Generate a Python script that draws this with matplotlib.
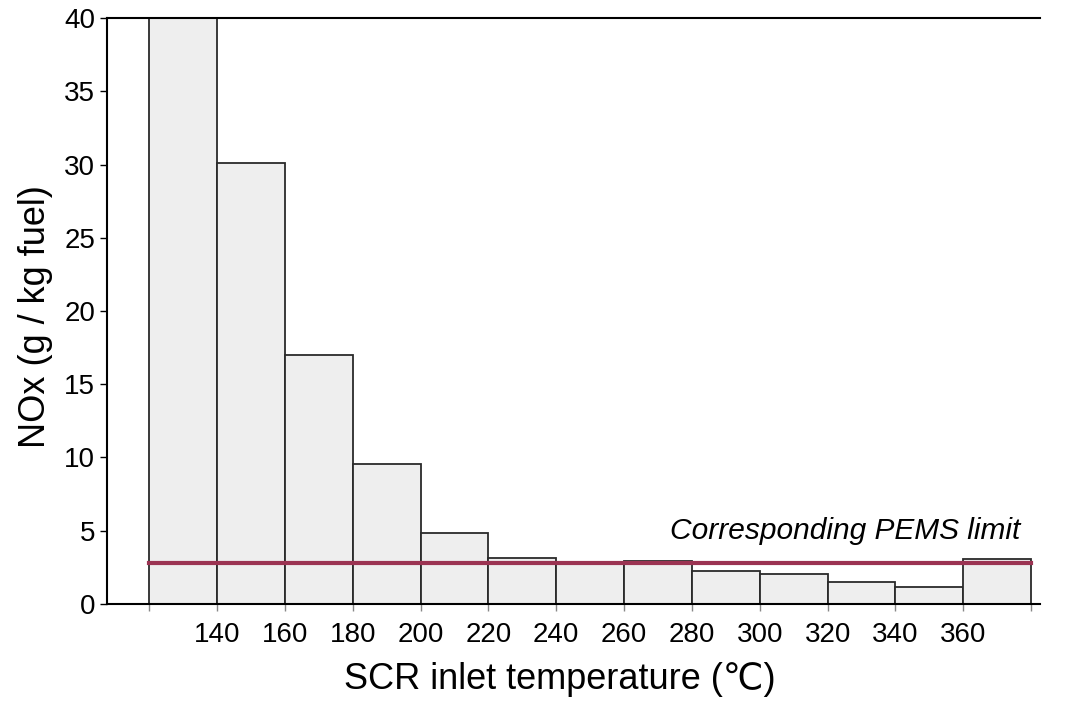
import matplotlib
matplotlib.use('Agg')
import matplotlib.pyplot as plt
import numpy as np

plt.rcParams['font.family'] = ['Liberation Sans', 'DejaVu Sans']

# bin edges (SCR inlet temperature, degC) and NOx per bin
edges = [120, 140, 160, 180, 200, 220, 240, 260, 280, 300, 320, 340, 360, 380]
nox = [45.0, 30.1, 17.0, 9.56, 4.85, 3.15, 2.75, 2.92, 2.25, 2.05, 1.5, 1.14, 3.05]
pems_limit = 2.82
tick_labels = ['', '140', '160', '180', '200', '220', '240', '260', '280', '300',
               '320', '340', '360', '']

fig = plt.figure(figsize=(10.66, 7.01), dpi=100)
ax = fig.add_axes([0.1004, 0.1384, 0.8752, 0.8359])

left = np.array(edges[:-1])
widths = np.diff(edges)
ax.bar(left, nox, width=widths, align='edge', color='#eeeeee',
       edgecolor='#2a2a2a', linewidth=1.3, zorder=2)
ax.plot([edges[0], edges[-1]], [pems_limit, pems_limit], color='#9b3352',
        linewidth=3, zorder=3)
ax.text(376.8, 4.0, 'Corresponding PEMS limit', style='italic', fontsize=21.5,
        ha='right', va='bottom')

ax.set_xlim(107.6, 382.6)
ax.set_ylim(0, 40)
ax.set_xticks(edges)
ax.set_xticklabels(tick_labels, fontsize=20)
ax.set_yticks(range(0, 41, 5))
ax.tick_params(axis='y', labelsize=20, length=5, width=1)
ax.tick_params(axis='x', length=5, width=1, color='#888888', pad=8)
ax.spines['right'].set_visible(False)
for s in ['left', 'bottom', 'top']:
    ax.spines[s].set_linewidth(1.5)

ax.set_xlabel('SCR inlet temperature (℃)', fontsize=26, labelpad=10)
ax.xaxis.label.set_x(0.485)
ax.set_ylabel('NOx (g / kg fuel)', fontsize=26, labelpad=8)
ax.yaxis.label.set_y(0.49)

fig.savefig('out.png', dpi=100)
